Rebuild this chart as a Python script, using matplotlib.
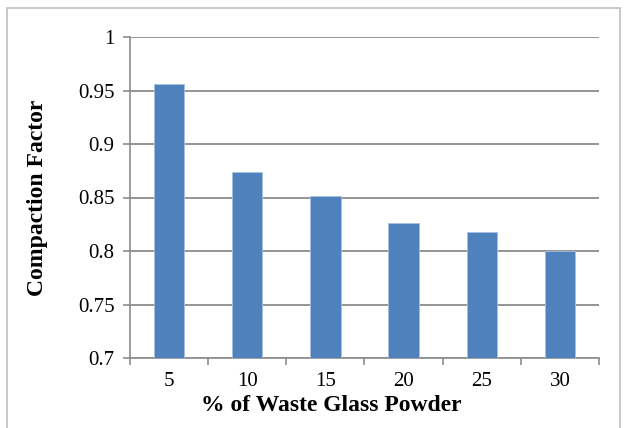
import matplotlib.pyplot as plt
import numpy as np
from matplotlib.patches import Rectangle

# % of waste glass powder vs compaction factor
glass_pct = ['5', '10', '15', '20', '25', '30']
compaction = [0.956, 0.874, 0.851, 0.826, 0.818, 0.800]

plt.rcParams['font.family'] = ['Liberation Serif', 'DejaVu Serif']

fig = plt.figure(figsize=(6.24, 4.28), dpi=100)
W, H = 624, 428
ax = fig.add_axes([130 / W, 1 - 358 / H, (599 - 130) / W, (358 - 37) / H])

# chart border like the excel chart frame
fig.patches.append(Rectangle((7 / W, -0.1), (620 - 7) / W, 1.1 - 8 / H,
                             transform=fig.transFigure, fill=False,
                             edgecolor='#bfbfbf', linewidth=1.2))

x = np.arange(len(glass_pct))
ax.bar(x, np.array(compaction) - 0.7, bottom=0.7, width=0.39,
       color='#4f81bd', edgecolor='#a6c0e0', linewidth=0.6, zorder=3)

ax.set_ylim(0.7, 1.0)
ax.set_xlim(-0.5, len(glass_pct) - 0.5)
ax.set_yticks(np.arange(0.7, 1.0001, 0.05))
ax.set_yticklabels(['0.7', '0.75', '0.8', '0.85', '0.9', '0.95', '1'])
ax.set_xticks(x)
ax.set_xticklabels(glass_pct)
ax.set_xticks(np.arange(-0.5, len(glass_pct)), minor=True)

ax.grid(axis='y', color='#8c8c8c', linewidth=1.3, zorder=0)
for s in ['top', 'right']:
    ax.spines[s].set_visible(False)
for s in ['left', 'bottom']:
    ax.spines[s].set_color('#8c8c8c')
    ax.spines[s].set_linewidth(1.2)

ax.tick_params(axis='x', which='major', length=0, labelsize=15, pad=10)
ax.tick_params(axis='x', which='minor', length=5, color='#8c8c8c', width=1.2)
ax.tick_params(axis='y', length=5, color='#8c8c8c', width=1.2, labelsize=15, pad=6)

ax.set_xlabel('% of Waste Glass Powder', fontsize=17, fontweight='bold', labelpad=3)
ax.xaxis.set_label_coords(0.43, -0.115)
ax.set_ylabel('Compaction Factor', fontsize=17, fontweight='bold', labelpad=22)

fig.savefig('out.png', dpi=100)
